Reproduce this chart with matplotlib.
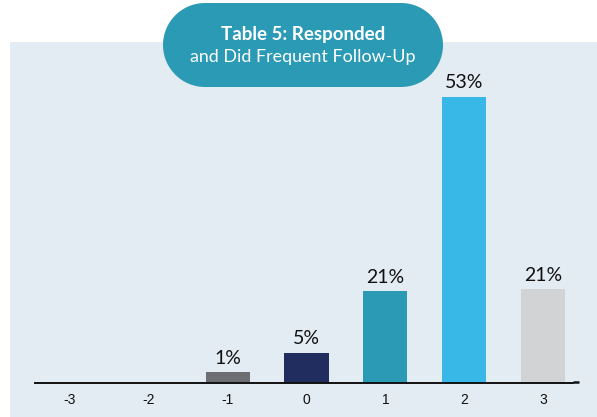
import matplotlib
matplotlib.use("Agg")
import numpy as np
import matplotlib.pyplot as plt
from matplotlib.patches import Rectangle, Polygon

categories = ["-3", "-2", "-1", "0", "1", "2", "3"]
bar_heights = [0, 0, 2.0, 5.6, 17.0, 53, 17.4]
bar_labels = ["", "", "1%", "5%", "21%", "53%", "21%"]
bar_colors = ["#6d6e71", "#6d6e71", "#6d6e71", "#212d5f", "#2a9ab5", "#38b8e6", "#d2d3d5"]
title_line1 = "Table 5: Responded"
title_line2 = "and Did Frequent Follow-Up"

W, H = 597, 417
fig = plt.figure(figsize=(W / 100, H / 100), dpi=100)
fig.patch.set_facecolor("white")

# background overlay axes in pixel coords
bg = fig.add_axes([0, 0, 1, 1], zorder=0)
bg.set_xlim(0, W)
bg.set_ylim(H, 0)
bg.axis("off")
bg.add_patch(Rectangle((10, 42), W - 10, H - 42, facecolor="#e3ecf2", edgecolor="none"))

# main axes
left_px, right_px, base_px = 35, 578, 383
ymax = 60
top_px = base_px - 286 / 53 * ymax
ax = fig.add_axes([left_px / W, (H - base_px) / H, (right_px - left_px) / W, (base_px - top_px) / H], zorder=1)
ax.patch.set_alpha(0)
x = list(range(len(categories)))
bars = ax.bar(x, bar_heights, width=0.56, color=bar_colors)
for b, lab in zip(bars, bar_labels):
    if lab:
        ax.annotate(lab, (b.get_x() + b.get_width() / 2, b.get_height()),
                    xytext=(0, 4), textcoords="offset points",
                    ha="center", va="bottom", fontsize=14, family="Lato", color="#111111")
ax.set_xlim(-0.444, 6.444)
ax.set_ylim(0, ymax)
ax.set_xticks(x)
ax.set_xticklabels(categories, fontsize=10, family="Liberation Sans", color="#111111")
ax.tick_params(axis="x", length=0, pad=7)
ax.set_yticks([])
for s in ["top", "right", "left"]:
    ax.spines[s].set_visible(False)
ax.spines["bottom"].set_bounds(-0.444, 6.38)
ax.spines["bottom"].set_linewidth(1.4)
ax.spines["bottom"].set_color("#111111")

# overlay for pill and end dash
over = fig.add_axes([0, 0, 1, 1], zorder=2)
over.set_xlim(0, W)
over.set_ylim(H, 0)
over.axis("off")
over.plot([573, 579], [382, 382], color="#111111", lw=1.8, solid_capstyle="butt")

# title pill (stadium shape)
x0, x1, y0, y1 = 163, 443, 3, 87
r = (y1 - y0) / 2
cy = (y0 + y1) / 2
t_r = np.linspace(-np.pi / 2, np.pi / 2, 60)
t_l = np.linspace(np.pi / 2, 3 * np.pi / 2, 60)
right_arc = np.column_stack([x1 - r + r * np.cos(t_r), cy + r * np.sin(t_r)])
left_arc = np.column_stack([x0 + r + r * np.cos(t_l), cy + r * np.sin(t_l)])
pts = np.vstack([right_arc, left_arc])
over.add_patch(Polygon(pts, closed=True, facecolor="#2a9ab5", edgecolor="none"))
over.text(303, 34, title_line1, ha="center", va="center", color="white",
          fontsize=13.5, fontweight="bold", family="Lato")
over.text(303, 57, title_line2, ha="center", va="center", color="white",
          fontsize=12.9, family="Lato")

fig.savefig("out.png", dpi=100)
